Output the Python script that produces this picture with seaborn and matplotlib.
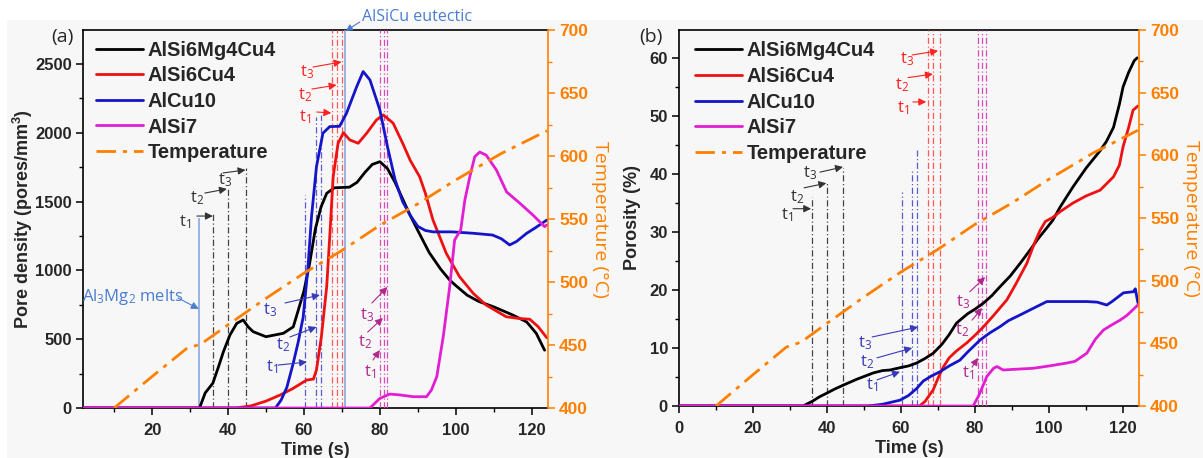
import matplotlib
matplotlib.use('Agg')
import numpy as np
import pandas as pd
import matplotlib.pyplot as plt
import seaborn as sns
from matplotlib.patches import Rectangle
from matplotlib.ticker import MultipleLocator

# ---------------- data: panel (a) pore density ----------------
a_black_t = [1.8, 32.5, 34, 36, 37.5, 38.8, 40.5, 42.3, 44, 45.3, 46.6, 50, 54.6, 57.2, 58.5, 60, 61.5, 63, 64.5, 66, 68,
             72, 74, 76, 78, 80, 82, 84, 86, 88, 90, 93, 96, 98.4, 100, 103, 106, 110, 115, 118.7, 121.2, 123.4]
a_black_y = [0, 0, 110, 180, 300, 410, 530, 615, 640, 590, 555, 518, 543, 590, 710, 850, 1050, 1300, 1460, 1560, 1600,
             1605, 1640, 1710, 1770, 1790, 1740, 1640, 1520, 1400, 1290, 1130, 1010, 930, 890, 820, 775, 735, 676, 625, 543, 420]

a_red_t = [1.8, 42, 46, 50, 53.7, 57, 60.7, 62.5, 63.3, 64.6, 66, 66.8, 67.7, 69, 70.4, 72.1, 74.3, 76.5, 79.1, 80.9,
           83.5, 86, 88, 90.5, 92, 94, 97.5, 101, 104.6, 108, 113.3, 116.8, 119.5, 121.7, 124]
a_red_y = [0, 0, 15, 50, 94, 140, 203, 210, 276, 518, 882, 1245, 1681, 1924, 2000, 1948, 1924, 1996, 2093, 2130,
           2070, 1925, 1800, 1680, 1560, 1366, 1124, 954, 833, 748, 663, 650, 645, 591, 510]

a_blue_t = [1.8, 52.5, 54, 55.5, 57.2, 58.5, 59.8, 61, 62, 63.3, 65, 66.8, 69.4, 71.2, 73.9, 75.6, 77.4, 80, 82, 84, 86,
            88, 90, 92, 94, 99, 104.5, 109.7, 112, 114.2, 116, 118.7, 121, 124]
a_blue_y = [0, 0, 58, 150, 327, 480, 660, 1000, 1390, 1753, 1997, 2045, 2047, 2141, 2335, 2445, 2384, 2166, 1900, 1660,
            1500, 1400, 1320, 1290, 1280, 1280, 1270, 1257, 1230, 1185, 1210, 1270, 1310, 1366]

a_mag_t = [1.8, 77.4, 80, 82.6, 85.3, 88.8, 92.3, 93.6, 95, 96.7, 98.4, 99.7, 101.3, 102.4, 103.7, 105, 106.3, 108,
           110.7, 113.4, 116.8, 120.3, 123.4, 124]
a_mag_y = [0, 0, 70, 101, 95, 82, 82, 131, 228, 518, 881, 1221, 1294, 1512, 1680, 1826, 1860, 1838, 1730, 1570, 1490,
           1403, 1318, 1330]

# ---------------- data: panel (b) porosity ----------------
b_black_t = [0, 33.5, 36, 38, 39.9, 42, 44.4, 48, 52.5, 55, 57, 59.7, 62, 64.2, 66.5, 68.7, 71, 73, 75, 78, 80, 82.2,
             84.5, 86.8, 89.5, 92.2, 95, 97, 99.4, 101, 103, 106.5, 110, 113.8, 115.5, 117.4, 119, 120, 121.5, 123, 123.8]
b_black_y = [0, 0, 0.8, 1.6, 2.2, 2.9, 3.6, 4.6, 5.7, 6.1, 6.2, 6.6, 6.9, 7.4, 8.2, 9.1, 10.6, 12.3, 14.3, 15.9, 16.7,
             17.7, 19.0, 20.6, 22.4, 24.6, 27.0, 28.8, 30.7, 32.0, 34.3, 37.8, 41.0, 44.0, 45.6, 48.0, 52.0, 55.0, 57.5,
             59.5, 60.0]

b_red_t = [0, 65, 66.5, 68.7, 70, 71.4, 73, 75, 77.8, 80, 82.2, 85, 88.6, 91, 94, 96, 97.6, 99, 101, 103, 106.5, 110,
           113.8, 117.4, 119, 120, 121.5, 122.7, 124]
b_red_y = [0, 0, 0.8, 2.8, 4.8, 6.7, 8.3, 9.5, 10.9, 12.2, 13.6, 15.6, 18.3, 21.0, 24.6, 28.0, 30.3, 31.8, 32.5, 33.5,
           35.0, 36.2, 37.2, 39.5, 41.5, 44.7, 48.0, 51.0, 51.7]

b_blue_t = [0, 51, 55, 59.7, 62, 64.2, 66, 68, 70.5, 73, 75.9, 78, 81.4, 84, 86.8, 89, 92.2, 95, 99.4, 104.8, 110.2,
            113, 115.6, 117, 120.1, 122.8, 123.3, 124]
b_blue_y = [0, 0, 0.3, 1.0, 1.8, 3.0, 4.3, 5.1, 5.9, 6.9, 7.9, 9.3, 11.4, 12.6, 13.7, 14.7, 15.7, 16.6, 18.0, 18.0,
            18.0, 17.9, 17.4, 18.0, 19.5, 19.7, 20.2, 17.8]

b_mag_t = [0, 79.5, 81, 83.2, 85, 85.9, 87.6, 90, 95.7, 100, 104.8, 107, 110.2, 112.5, 114.7, 117, 119.2, 121, 124]
b_mag_y = [0, 0, 1.8, 5.1, 6.5, 6.8, 6.2, 6.3, 6.5, 6.9, 7.4, 7.7, 9.1, 11.5, 13.1, 14.0, 14.8, 15.6, 17.4]

# ---------------- temperature (same for both panels) ----------------
temp_t = [10, 20, 29, 33, 40, 50, 60, 70, 80, 90, 100, 112, 124]
temp_T = [400, 425, 447, 451, 466, 487, 507, 525, 545, 562, 581, 602, 620]

labels = ['AlSi6Mg4Cu4', 'AlSi6Cu4', 'AlCu10', 'AlSi7']
colors = ['black', '#ee1111', '#1414c8', '#e21ed2']
ORANGE = '#ff8000'

# ---------------- marker times (vertical lines) ----------------
a_vl_black = [36.1, 39.9, 44.7]; a_vl_black_top = [1420, 1600, 1745]
a_vl_blue = [60.3, 63.3, 64.6]; a_vl_blue_top = [1548, 2115, 2130]
a_vl_red = [67.3, 68.6, 69.9]
a_vl_mag = [80.0, 81.0, 81.9]
a_melt_t = 32.4; a_melt_top = 1380
a_eut_t = 70.8

b_vl_black = [35.9, 39.9, 44.4]; b_vl_black_top = [36.0, 38.6, 41.0]
b_vl_blue = [60.2, 62.9, 64.2]; b_vl_blue_top = [36.9, 40.7, 44.1]
b_vl_red = [67.4, 68.7, 70.4]
b_vl_mag = [80.9, 81.8, 83.0]

sns.set_theme(style='ticks')
plt.rcParams['font.family'] = ['Liberation Sans', 'DejaVu Sans']
plt.rcParams['mathtext.default'] = 'regular'
plt.rcParams['font.weight'] = 'bold'
plt.rcParams['axes.labelweight'] = 'bold'

BG = '#f7f7f7'
fig = plt.figure(figsize=(12.03, 4.58), dpi=100, facecolor='white')
fig.patches.append(Rectangle((0.006, 0), 0.994, 0.956, transform=fig.transFigure, facecolor=BG,
                             edgecolor='none', zorder=-10))

W, H = 1203, 458
axA = fig.add_axes([83 / W, 50 / H, 465 / W, 378 / H])
axB = fig.add_axes([679 / W, 52 / H, 460 / W, 376 / H])


def style_axes(ax, ax2):
    ax.set_facecolor('none')
    ax2.set_facecolor('none')
    for s in ['left', 'bottom', 'top']:
        ax.spines[s].set_color('black')
        ax.spines[s].set_linewidth(1.2)
    ax.spines['right'].set_visible(False)
    ax2.spines['right'].set_color(ORANGE)
    ax2.spines['right'].set_linewidth(1.2)
    for s in ['left', 'bottom', 'top']:
        ax2.spines[s].set_visible(False)
    ax.tick_params(axis='both', which='major', direction='out', length=5, width=1.1, labelsize=12, color='black')
    ax.tick_params(axis='both', which='minor', direction='out', length=3, width=1.0, color='black')
    ax.tick_params(axis='x', pad=6)
    ax.tick_params(axis='y', pad=3)
    ax2.tick_params(axis='y', which='major', direction='out', length=5, width=1.1, labelsize=12.5,
                    colors=ORANGE, pad=3)
    ax2.tick_params(axis='y', which='minor', direction='out', length=3, width=1.0, colors=ORANGE)
    ax2.set_ylim(400, 700)
    ax2.yaxis.set_major_locator(MultipleLocator(50))
    ax2.yaxis.set_minor_locator(MultipleLocator(25))
    ax.xaxis.set_major_locator(MultipleLocator(20))
    ax.xaxis.set_minor_locator(MultipleLocator(10))
    ax2.set_ylabel('Temperature (°C)', color=ORANGE, fontsize=14, rotation=270, labelpad=15,
                   fontweight='normal', family=['Open Sans', 'DejaVu Sans'])
    ax.set_xlabel('Time (s)', fontsize=13, labelpad=3)
    for lab in ax.get_xticklabels() + ax.get_yticklabels() + ax2.get_yticklabels():
        lab.set_fontweight('bold')


def draw_panel(ax, series, xlim, ylim):
    for (t, y), lab, c in zip(series, labels, colors):
        sns.lineplot(x=t, y=y, ax=ax, color=c, linewidth=2.0, estimator=None, sort=False, label=lab,
                     legend=False, zorder=5)
    ax.set_xlim(*xlim)
    ax.set_ylim(*ylim)
    ax2 = ax.twinx()
    sns.lineplot(x=temp_t, y=temp_T, ax=ax2, color=ORANGE, linewidth=2.0, estimator=None, sort=False,
                 label='Temperature', legend=False)
    ax2.lines[0].set_dashes([7, 2.5, 1.5, 2.5])
    style_axes(ax, ax2)
    return ax2


def tlabel(ax, text, xy_text, tail, head, color, fs=12):
    ax.text(xy_text[0], xy_text[1], text, color=color, fontsize=fs, ha='center', va='center',
            family=['Open Sans', 'DejaVu Sans'], fontweight='normal', zorder=8)
    ax.annotate('', xy=head, xytext=tail,
                arrowprops=dict(arrowstyle='-|>', color=color, lw=0.8, shrinkA=0, shrinkB=0,
                                mutation_scale=11), zorder=8)


# ---------------- panel (a) ----------------
axA2 = draw_panel(axA, [(a_black_t, a_black_y), (a_red_t, a_red_y), (a_blue_t, a_blue_y), (a_mag_t, a_mag_y)],
                  (1.8, 124.3), (0, 2747))
axA.yaxis.set_major_locator(MultipleLocator(500))
axA.yaxis.set_minor_locator(MultipleLocator(250))
axA.set_ylabel('Pore density (pores/mm$^3$)', fontsize=13, labelpad=0)
for lab in axA.get_yticklabels():
    lab.set_fontweight('bold')

LS = (0, (5, 2, 1, 2))
axA.vlines(a_vl_black, 0, a_vl_black_top, colors='#444444', linestyles=LS, linewidth=0.9, zorder=3)
axA.vlines(a_vl_blue, 0, a_vl_blue_top, colors='#5a5ad0', linestyles=LS, linewidth=0.9, zorder=3)
axA.vlines(a_vl_red, 0, 2747, colors='#ff5a5a', linestyles=LS, linewidth=0.9, zorder=3)
axA.vlines(a_vl_mag, 0, 2747, colors='#d84cb8', linestyles=LS, linewidth=0.9, zorder=3)
axA.vlines([a_melt_t], 0, a_melt_top, colors='#7ea2e0', linewidth=1.1, zorder=3)
axA.vlines([a_eut_t], 0, 2747, colors='#7ea2e0', linewidth=1.1, zorder=3)

BLK = '#333333'; RED = '#ff2222'; BLU = '#3a3ab8'; MAG = '#b0288e'; LBLU = '#4a7cd0'
tlabel(axA, 't$_1$', (28.7, 1352), (31.8, 1395), (36.0, 1395), BLK)
tlabel(axA, 't$_2$', (31.8, 1526), (33.9, 1562), (39.7, 1592), BLK)
tlabel(axA, 't$_3$', (39.2, 1657), (38.7, 1708), (44.6, 1730), BLK)
tlabel(axA, 't$_1$', (60.3, 2115), (63.4, 2151), (67.2, 2144), RED)
tlabel(axA, 't$_2$', (60.3, 2275), (62.1, 2318), (68.6, 2347), RED)
tlabel(axA, 't$_3$', (60.8, 2442), (62.4, 2478), (69.9, 2515), RED)
tlabel(axA, 't$_1$', (51.6, 298), (53.2, 312), (60.8, 334), BLU)
tlabel(axA, 't$_2$', (54.5, 458), (56.3, 516), (63.3, 589), BLU)
tlabel(axA, 't$_3$', (51.0, 712), (55.0, 763), (64.2, 821), BLU)
tlabel(axA, 't$_1$', (77.4, 262), (78.2, 349), (80.0, 421), MAG)
tlabel(axA, 't$_2$', (76.0, 480), (76.8, 552), (80.8, 654), MAG)
tlabel(axA, 't$_3$', (76.6, 676), (77.9, 763), (82.0, 879), MAG)

axA.text(15.0, 807, 'Al$_3$Mg$_2$ melts', color=LBLU, fontsize=12, ha='center', va='center',
         family=['Open Sans', 'DejaVu Sans'], fontweight='normal')
axA.annotate('', xy=(32.3, 720), xytext=(26.8, 800),
             arrowprops=dict(arrowstyle='-|>', color=LBLU, lw=0.8, shrinkA=0, shrinkB=0, mutation_scale=11))
axA.text(89.8, 2842, 'AlSiCu eutectic', color=LBLU, fontsize=11.5, ha='center', va='center',
         family=['Open Sans', 'DejaVu Sans'], fontweight='normal', clip_on=False)
axA.annotate('', xy=(71.0, 2740), xytext=(74.7, 2805), annotation_clip=False,
             arrowprops=dict(arrowstyle='-|>', color=LBLU, lw=0.8, shrinkA=0, shrinkB=0, mutation_scale=10))

# ---------------- panel (b) ----------------
axB2 = draw_panel(axB, [(b_black_t, b_black_y), (b_red_t, b_red_y), (b_blue_t, b_blue_y), (b_mag_t, b_mag_y)],
                  (0, 124.3), (0, 64.8))
axB.yaxis.set_major_locator(MultipleLocator(10))
axB.yaxis.set_minor_locator(MultipleLocator(5))
axB.set_ylabel('Porosity (%)', fontsize=13, labelpad=6)
for lab in axB.get_yticklabels():
    lab.set_fontweight('bold')

axB.vlines(b_vl_black, 0, b_vl_black_top, colors='#444444', linestyles=LS, linewidth=0.9, zorder=3)
axB.vlines(b_vl_blue, 0, b_vl_blue_top, colors='#5a5ad0', linestyles=LS, linewidth=0.9, zorder=3)
axB.vlines(b_vl_red, 0, 64.8, colors='#ff5a5a', linestyles=LS, linewidth=0.9, zorder=3)
axB.vlines(b_vl_mag, 0, 64.8, colors='#d84cb8', linestyles=LS, linewidth=0.9, zorder=3)

tlabel(axB, 't$_1$', (29.2, 32.9), (30.8, 34.0), (35.7, 34.0), BLK)
tlabel(axB, 't$_2$', (31.9, 36.0), (33.8, 37.6), (39.8, 38.4), BLK)
tlabel(axB, 't$_3$', (35.4, 40.2), (38.1, 40.3), (44.3, 41.2), BLK)
tlabel(axB, 't$_1$', (60.5, 51.4), (63.2, 52.4), (66.8, 52.4), RED)
tlabel(axB, 't$_2$', (60.3, 55.3), (61.9, 56.6), (68.6, 57.2), RED)
tlabel(axB, 't$_3$', (61.6, 59.7), (63.0, 60.5), (70.0, 61.2), RED)
tlabel(axB, 't$_1$', (52.2, 3.6), (53.5, 4.5), (59.7, 5.9), BLU)
tlabel(axB, 't$_2$', (50.8, 7.6), (53.5, 8.3), (63.0, 10.0), BLU)
tlabel(axB, 't$_3$', (50.3, 10.9), (52.2, 11.9), (64.6, 13.6), BLU)
tlabel(axB, 't$_1$', (78.1, 5.7), (79.2, 6.7), (80.8, 8.3), MAG)
tlabel(axB, 't$_2$', (76.5, 13.1), (79.2, 14.8), (81.9, 16.9), MAG)
tlabel(axB, 't$_3$', (76.8, 17.9), (78.6, 19.7), (82.7, 22.2), MAG)

# ---------------- legends ----------------
for ax, ax2, anchor in [(axA, axA2, (0.028, 0.972)), (axB, axB2, (0.035, 0.970))]:
    h = ax.get_lines()[:4] + [ax2.get_lines()[0]]
    l = labels + ['Temperature']
    ax2.legend(h, l, loc='upper left', bbox_to_anchor=anchor, frameon=False, borderaxespad=0, borderpad=0,
               handlelength=2.35, handletextpad=0.2, labelspacing=0.33,
               prop={'weight': 'bold', 'size': 14.5, 'family': ['Liberation Sans', 'DejaVu Sans']})

fig.text(62 / W, 1 - 37 / H, '(a)', fontsize=14, fontweight='normal', ha='center', va='center',
         family=['Open Sans', 'DejaVu Sans'])
fig.text(651 / W, 1 - 37 / H, '(b)', fontsize=14, fontweight='normal', ha='center', va='center',
         family=['Open Sans', 'DejaVu Sans'])

fig.savefig('out.png', dpi=100, facecolor=fig.get_facecolor())
